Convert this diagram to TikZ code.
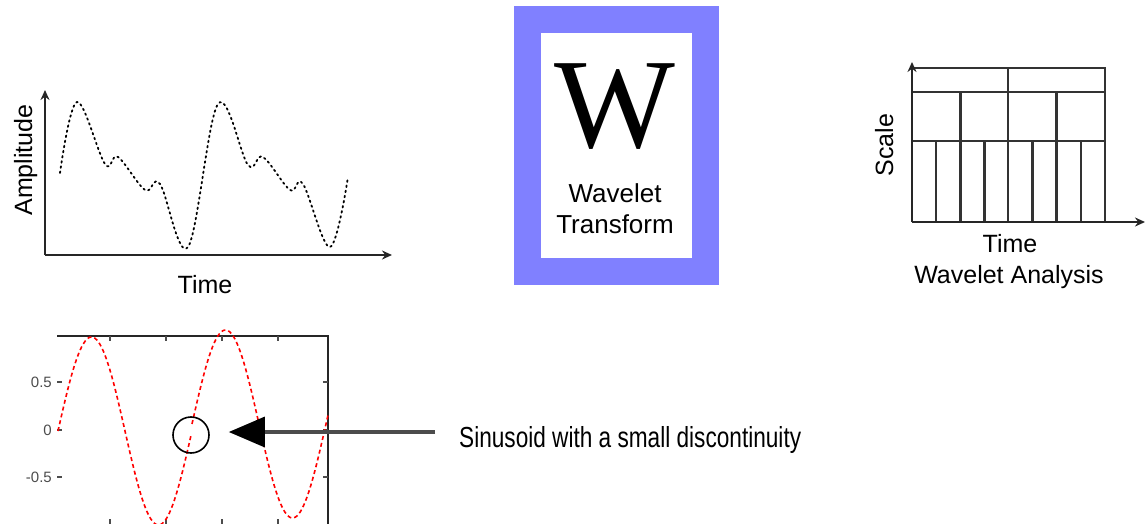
\documentclass[tikz,border=0pt]{standalone}
\usepackage{fontspec}
\setmainfont{Liberation Sans}
\newfontfamily\serifW{Liberation Serif}
\newfontfamily\narrowfont[FakeStretch=0.78]{Liberation Sans}
\usetikzlibrary{arrows.meta, positioning, calc}
\definecolor{frameblue}{HTML}{8080FF}

\begin{document}
\begin{tikzpicture}[
        x=1pt, y=-1pt,
        axis/.style={line width=2.4pt, black!85, -{Stealth[length=10pt, width=9pt]}},
        grid/.style={line width=2.6pt, black!80},
        big/.style={font=\fontsize{25}{30}\selectfont, inner sep=0pt},
        lbl/.style={font=\fontsize{26}{30}\selectfont, inner sep=0pt},
        tick/.style={font=\fontsize{15}{18}\selectfont, inner sep=0pt, black!70},
        sig/.style={line width=1.8pt, dash pattern=on 1.6pt off 3.6pt, line cap=round},
        sine/.style={line width=1.6pt, red, dash pattern=on 4pt off 3pt},
        pointer/.style={line width=3.2pt, black!70, -{Triangle[length=36pt, width=30pt, black]}}
    ]
    \useasboundingbox (0,0) rectangle (1146,524);

    % signal in time
    \coordinate (o1) at (45,255);
    \draw[axis] (o1) -- (45,90);
    \draw[axis] (o1) -- (392,255);
    \draw[sig] plot[smooth, tension=0.6] coordinates {(60,173) (77,102) (105,164) (118,157) (145,190) (160,184) (188,247) (218,104) (248,165) (263,157) (290,190) (303,184) (330,247) (348,177)};
    \node[big, anchor=base] (time1) at (205,293) {Time};
    \node[big, anchor=base, rotate=90] (amp) at (32,160) {Amplitude};

    % wavelet transform box
    \draw[frameblue, line width=27pt] (527,20) rectangle (705,271);
    \node[anchor=base, inner sep=0pt, font=\serifW\fontsize{128}{130}\selectfont] (wbig) at (615,148) {W};
    \node[lbl, anchor=base] (wav) at (615,202) {Wavelet};
    \node[lbl, anchor=base] (trf) at (615,233) {Transform};

    % time-scale tiling
    \coordinate (o2) at (912,222);
    \draw[grid] (912,68) -- (1105,68) -- (1105,222);
    \draw[grid] (912,92) -- (1105,92);
    \draw[grid] (912,141) -- (1105,141);
    \draw[grid] (1008,68) -- (1008,222);
    \foreach \k in {1,3} \draw[grid] ({912+\k*48.25},92) -- ({912+\k*48.25},222);
    \foreach \k in {1,3,5,7} \draw[grid] ({912+\k*24.125},141) -- ({912+\k*24.125},222);
    \draw[axis] (o2) -- (912,62);
    \draw[axis] (o2) -- (1145,222);
    \node[big, anchor=base] (time2) at (1010,252) {Time};
    \node[big, anchor=base] (wa) at (1009,283) {Wavelet Analysis};
    \node[big, anchor=base, rotate=90] (scale) at (893,145) {Scale};

    % sinusoid with discontinuity
    \draw[line width=1.8pt, black!85] (57,336) -- (328,336) -- (328,524);
    \foreach \t in {110,166,222,278} {
        \draw[line width=1.3pt, black!70] (\t,336) -- (\t,341);
        \draw[line width=1.3pt, black!70] (\t,524) -- (\t,519);
    }
    \foreach \v/\s in {382/0.5,430/0,477/-0.5} {
        \draw[line width=1.3pt, black!70] (328,\v) -- (323,\v);
        \draw[line width=1.3pt, black!70] (57,\v) -- (62,\v);
        \node[tick, anchor=east] at (52,\v) {\s};
    }
    \draw[sine] plot[domain=58:191, samples=80] (\x, {431-94*sin(2.6866*(\x-58))});
    \draw[sine] plot[domain=192:328, samples=80] (\x, {424-94*sin(2.6866*(\x-58))});
    \node[draw, circle, line width=1.6pt, minimum size=36pt, inner sep=0pt] (disc) at (191,435) {};
    \node[anchor=base west, inner sep=0pt, font=\narrowfont\fontsize{29}{30}\selectfont] (msg) at (459,447) {Sinusoid with a small discontinuity};
    \coordinate (tail) at ($(msg.base west)+(-24,-15)$);
    \draw[pointer, shorten >=19pt] (tail) -- (tail -| disc.east);
\end{tikzpicture}
\end{document}
